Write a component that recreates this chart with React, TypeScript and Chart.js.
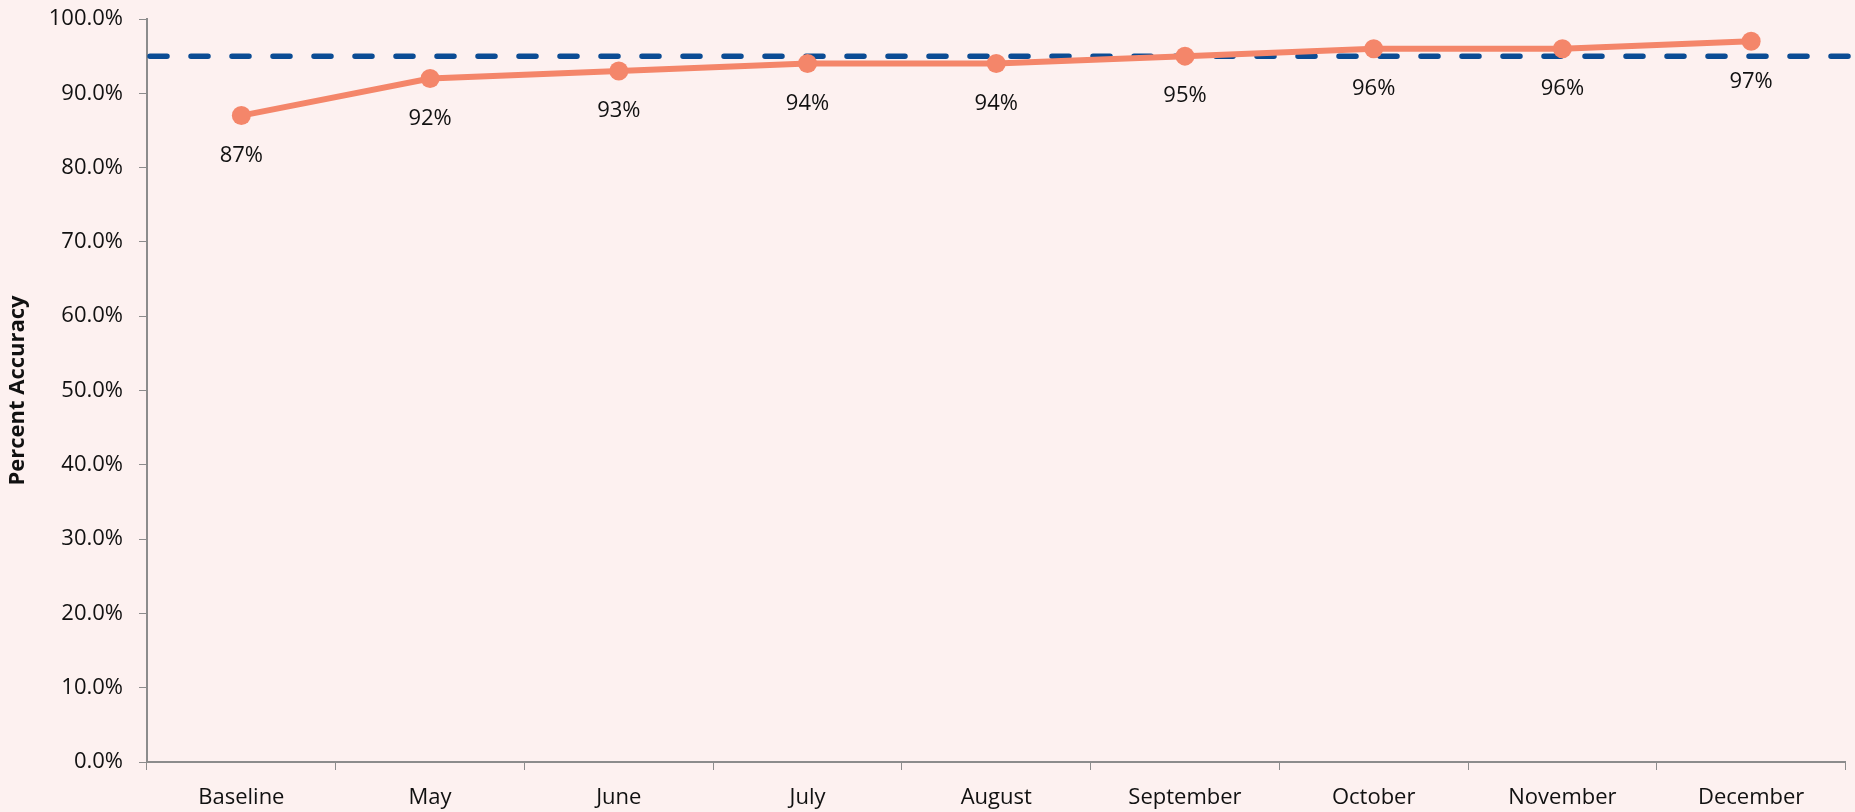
import React, { useEffect, useRef } from "react";
import { Chart, registerables } from "chart.js";

Chart.register(...registerables);

const categories = ["Baseline", "May", "June", "July", "August", "September", "October", "November", "December"];
const accuracy = [87, 92, 93, 94, 94, 95, 96, 96, 97];
const target = [95];
const yTicks = [0, 10, 20, 30, 40, 50, 60, 70, 80, 90, 100];

const FONT = "'Open Sans', 'Noto Sans', sans-serif";
const BG = "#FDF1F0";

const targetLinePlugin = {
  id: "targetLine",
  beforeDatasetsDraw(chart: any) {
    const { ctx, chartArea, scales } = chart;
    const y = scales.y.getPixelForValue(target[0]);
    ctx.save();
    ctx.strokeStyle = "#0B4C94";
    ctx.lineWidth = 5.5;
    ctx.lineCap = "round";
    ctx.setLineDash([17, 24]);
    ctx.beginPath();
    ctx.moveTo(chartArea.left + 3, y);
    ctx.lineTo(chart.width, y);
    ctx.stroke();
    ctx.restore();
  },
};

const labelPlugin = {
  id: "pointLabels",
  afterDatasetsDraw(chart: any) {
    const { ctx } = chart;
    const meta = chart.getDatasetMeta(0);
    ctx.save();
    ctx.fillStyle = "#111111";
    ctx.font = `22px ${FONT}`;
    ctx.textAlign = "center";
    ctx.textBaseline = "middle";
    meta.data.forEach((pt: any, i: number) => {
      ctx.fillText(`${accuracy[i]}%`, pt.x, pt.y + 40);
    });
    ctx.restore();
  },
};

const bgPlugin = {
  id: "bg",
  beforeDraw(chart: any) {
    const { ctx } = chart;
    ctx.save();
    ctx.fillStyle = BG;
    ctx.fillRect(0, 0, chart.width, chart.height);
    ctx.restore();
  },
};

export default function App() {
  const ref = useRef<HTMLCanvasElement>(null);
  useEffect(() => {
    document.body.style.margin = "0";
    document.body.style.background = BG;
    const chart = new Chart(ref.current!, {
      type: "line",
      data: {
        labels: categories,
        datasets: [
          {
            data: accuracy,
            borderColor: "#F4866A",
            backgroundColor: "#F4866A",
            borderWidth: 6,
            pointRadius: 9.5,
            pointBackgroundColor: "#F4866A",
            pointBorderWidth: 0,
            tension: 0,
          },
        ],
      },
      options: {
        animation: false,
        responsive: false,
        maintainAspectRatio: false,
        layout: { padding: { top: 0, right: 0, bottom: 0, left: 0 } },
        plugins: { legend: { display: false }, tooltip: { enabled: false } },
        scales: {
          x: {
            type: "category",
            offset: true,
            grid: { drawOnChartArea: false, drawTicks: true, tickLength: 8, color: "#8C8C8C", offset: true },
            border: { color: "#8C8C8C", width: 2 },
            ticks: { color: "#111111", font: { family: FONT, size: 22 }, padding: 15, maxRotation: 0, autoSkip: false },
            afterFit: (s: any) => {
              s.height = 50;
              s.paddingLeft = 0;
              s.paddingRight = 0;
            },
          },
          y: {
            min: 0,
            max: 100,
            afterBuildTicks: (s: any) => {
              s.ticks = yTicks.map((v) => ({ value: v }));
            },
            grid: { drawOnChartArea: false, drawTicks: true, tickLength: 8, color: "#8C8C8C" },
            border: { color: "#8C8C8C", width: 2 },
            ticks: {
              color: "#111111",
              font: { family: FONT, size: 22 },
              padding: 16,
              callback: (v: any) => `${Number(v).toFixed(1)}%`,
            },
            title: {
              display: true,
              text: "Percent Accuracy",
              color: "#111111",
              font: { family: FONT, size: 22, weight: "bold" },
              padding: { top: 5, bottom: 0 },
            },
            afterFit: (s: any) => {
              s.width = 147;
              s.paddingTop = 19;
              s.paddingBottom = 0;
            },
          },
        },
      },
      plugins: [bgPlugin, targetLinePlugin, labelPlugin],
    });
    return () => chart.destroy();
  }, []);
  return (
    <div style={{ width: 1855, height: 812, background: BG }}>
      <canvas ref={ref} width={1855} height={812} style={{ display: "block" }} />
    </div>
  );
}
